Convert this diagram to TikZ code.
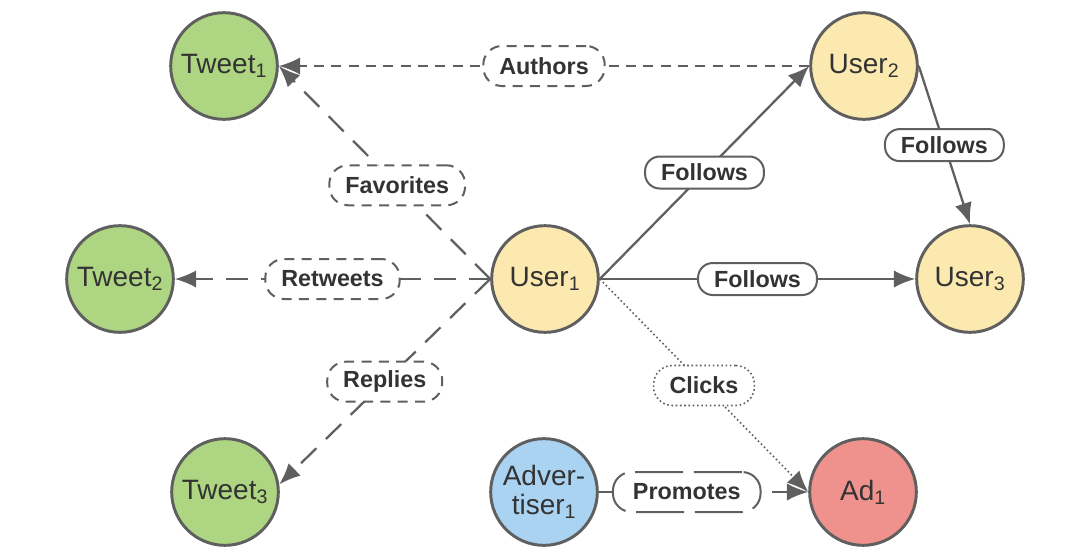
\documentclass[tikz,border=0pt]{standalone}
\usepackage{fontspec}
\setmainfont{Liberation Sans}
\usetikzlibrary{arrows.meta}

\definecolor{tweetgreen}{HTML}{AED581}
\definecolor{useryellow}{HTML}{FCE9AF}
\definecolor{advblue}{HTML}{A9D3F1}
\definecolor{adred}{HTML}{EF918D}
\definecolor{linegray}{HTML}{5F5F5F}
\definecolor{textgray}{HTML}{333333}

\tikzset{
  entity/.style={circle, draw=linegray, line width=2.2pt, minimum size=80pt,
    inner sep=0pt, align=center, text=textgray,
    font=\fontsize{21}{22}\selectfont},
  rel/.style={rounded corners=11pt, draw=linegray, line width=1.5pt, fill=white,
    text=textgray, inner xsep=12pt, inner ysep=0pt, minimum height=24pt,
    font=\bfseries\fontsize{17.5}{19}\selectfont},
  reltall/.style={rel, rounded corners=14pt, minimum height=30pt},
  link/.style={draw=linegray, line width=1.7pt, -{Latex[length=16pt,width=13pt]}},
  longdash/.style={dash pattern=on 16pt off 10pt},
  shortdash/.style={dash pattern=on 7.5pt off 5.5pt},
  boxdash/.style={dash pattern=on 36pt off 8pt},
  dots/.style={line width=1.2pt, dash pattern=on 1.2pt off 2pt},
}

\begin{document}
\begin{tikzpicture}[x=0.75pt, y=-0.75pt]
  \useasboundingbox (0,0) rectangle (1080,557);

  % tweets
  \node[entity, fill=tweetgreen] (tweet1) at (224,66) {Tweet\textsubscript{1}};
  \node[entity, fill=tweetgreen] (tweet2) at (120,279) {Tweet\textsubscript{2}};
  \node[entity, fill=tweetgreen] (tweet3) at (225,492) {Tweet\textsubscript{3}};

  % users
  \node[entity, fill=useryellow] (user1) at (545,279) {User\textsubscript{1}};
  \node[entity, fill=useryellow] (user2) at (864,66) {User\textsubscript{2}};
  \node[entity, fill=useryellow] (user3) at (970,279) {User\textsubscript{3}};

  % advertising
  \node[entity, fill=advblue] (adv1) at (544,492) {Adver-\\tiser\textsubscript{1}};
  \node[entity, fill=adred] (ad1) at (863,492) {Ad\textsubscript{1}};

  % user to tweet
  \draw[link, shortdash] (user2.west) -- node[reltall] (authors) {Authors} (tweet1.east);
  \draw[link, longdash] (user1.west) -- node[reltall, pos=0.44, shortdash] (favorites) {Favorites} (tweet1.east);
  \draw[link, longdash] (user1.west) -- node[reltall, shortdash] (retweets) {Retweets} (tweet2.east);
  \draw[link, longdash] (user1.west) -- node[reltall, shortdash] (replies) {Replies} (tweet3.8);

  % user to user
  \draw[link] (user1.east) -- node[rel] (follows12) {Follows} (user2.west);
  \draw[link] (user1.east) -- node[rel] (follows13) {Follows} (user3.west);
  \draw[link] (user2.east) -- node[rel] (follows23) {Follows} (user3.north);

  % ads
  \draw[link, dots] (user1.east) -- node[reltall, dots] (clicks) {Clicks} (ad1.west);
  \draw[link, longdash] (adv1.east) -- node[reltall, pos=0.42, boxdash, inner xsep=15pt] (promotes) {Promotes} (ad1.west);
\end{tikzpicture}
\end{document}
